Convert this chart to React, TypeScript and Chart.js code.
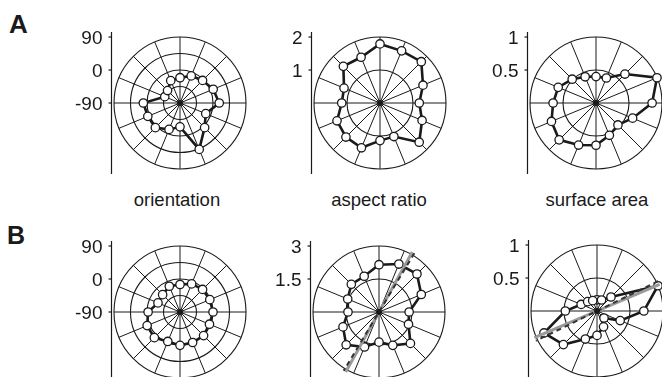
import React, { useEffect, useRef } from 'react';
import { Chart, registerables } from 'chart.js';

Chart.register(...registerables);

// 16 directions, degrees clockwise from the top
const angles = ['0', '22.5', '45', '67.5', '90', '112.5', '135', '157.5', '180', '202.5', '225', '247.5', '270', '292.5', '315', '337.5'];

// Row A
const orientationA = [-21, -10, -3, 8, 17, -14, 5, 47, -25, -12, 5, 5, 10, -45, -42, -24];
const aspectA = [1.79, 1.71, 1.77, 1.41, 1.19, 1.38, 1.68, 1.1, 1.14, 1.47, 1.46, 1.41, 1.16, 1.18, 1.57, 1.5];
const surfaceA = [0.4, 0.41, 0.62, 1.0, 0.85, 0.6, 0.47, 0.53, 0.64, 0.69, 0.79, 0.73, 0.65, 0.62, 0.51, 0.43];

// Row B
const orientationB = [-15, -7, -3, -2, 0, -3, 1, 0, 1, -3, 9, 7, -3, -25, -23, -14];
const aspectB = [2.15, 2.36, 2.44, 2.08, 1.37, 1.45, 2.02, 1.64, 1.37, 1.72, 2.11, 1.77, 1.41, 1.54, 1.78, 1.76];
const surfaceB = [0.17, 0.18, 0.3, 1.0, 0.71, 0.38, 0.15, 0.26, 0.37, 0.46, 0.72, 0.87, 0.48, 0.26, 0.2, 0.17];

// Radial axis tick labels
const orientationTicks = [90, 0, -90];
const aspectTicksA = [2, 1];
const aspectTicksB = [3, 1.5];
const surfaceTicks = [1, 0.5];

// Fitted axes (direction in degrees clockwise from top, half-length in data units)
const aspectFitAngles = [29, 31];
const aspectFitExtent = 3.12;
const surfaceFitAngles = [67, 64];
const surfaceFitExtent = 1.03;

const titles = ['orientation', 'aspect ratio', 'surface area'];

const INK = '#1a1a1a';
const FONT = '"Liberation Sans", Arial, Helvetica, sans-serif';

type Fit = { angle: number; extent: number; color: string; width: number; dash: number[] };
type PanelCfg = {
  data: number[];
  min: number;
  max: number;
  step: number;
  ticks: number[];
  cx: number;
  cy: number;
  fits?: Fit[];
};

const W = 220;
const H = 160;
const LX = 150;
const LY = 80;
const R = 66;

const panels: PanelCfg[] = [
  { data: orientationA, min: -90, max: 90, step: 45, ticks: orientationTicks, cx: 180, cy: 103 },
  { data: aspectA, min: 0, max: 2, step: 1, ticks: aspectTicksA, cx: 380, cy: 103 },
  { data: surfaceA, min: 0, max: 1, step: 0.5, ticks: surfaceTicks, cx: 596, cy: 103 },
  { data: orientationB, min: -90, max: 90, step: 45, ticks: orientationTicks, cx: 180, cy: 312 },
  {
    data: aspectB, min: 0, max: 3, step: 1.5, ticks: aspectTicksB, cx: 379, cy: 312,
    fits: [
      { angle: aspectFitAngles[0], extent: aspectFitExtent, color: '#9a9a9a', width: 3, dash: [] },
      { angle: aspectFitAngles[1], extent: aspectFitExtent, color: '#333', width: 2, dash: [5, 4] },
    ],
  },
  {
    data: surfaceB, min: 0, max: 1, step: 0.5, ticks: surfaceTicks, cx: 597, cy: 311,
    fits: [
      { angle: surfaceFitAngles[0], extent: surfaceFitExtent, color: '#9a9a9a', width: 3, dash: [] },
      { angle: surfaceFitAngles[1], extent: surfaceFitExtent, color: '#333', width: 2, dash: [5, 4] },
    ],
  },
];

function makePlugin(cfg: PanelCfg) {
  return {
    id: 'polarExtras',
    afterDatasetsDraw(chart: any) {
      const s = chart.scales.r;
      const ctx = chart.ctx;
      ctx.save();
      (cfg.fits || []).forEach((f) => {
        const d = s.getDistanceFromCenterForValue(f.extent);
        const p1 = s.getPointPosition(f.angle / 22.5, d);
        const p2 = s.getPointPosition((f.angle + 180) / 22.5, d);
        ctx.beginPath();
        ctx.strokeStyle = f.color;
        ctx.lineWidth = f.width;
        ctx.setLineDash(f.dash);
        ctx.moveTo(p1.x, p1.y);
        ctx.lineTo(p2.x, p2.y);
        ctx.stroke();
      });
      ctx.setLineDash([]);
      ctx.beginPath();
      ctx.fillStyle = INK;
      ctx.arc(s.xCenter, s.yCenter, 3, 0, Math.PI * 2);
      ctx.fill();
      ctx.restore();
    },
    afterDraw(chart: any) {
      const s = chart.scales.r;
      const ctx = chart.ctx;
      const x = Math.round(s.xCenter - s.drawingArea - 3.5) + 0.5;
      ctx.save();
      ctx.strokeStyle = INK;
      ctx.lineWidth = 1.2;
      ctx.beginPath();
      ctx.moveTo(x, s.yCenter - s.drawingArea - 5);
      ctx.lineTo(x, s.yCenter + s.drawingArea + 5);
      ctx.stroke();
      ctx.font = '19px ' + FONT;
      ctx.fillStyle = INK;
      ctx.textAlign = 'right';
      ctx.textBaseline = 'middle';
      cfg.ticks.forEach((v) => {
        const y = s.yCenter - s.getDistanceFromCenterForValue(v);
        ctx.beginPath();
        ctx.moveTo(x - 3, y);
        ctx.lineTo(x, y);
        ctx.stroke();
        ctx.fillText(String(v), x - 9, y + 2);
      });
      ctx.restore();
    },
  };
}

function Panel({ cfg }: { cfg: PanelCfg }) {
  const ref = useRef<HTMLCanvasElement | null>(null);
  useEffect(() => {
    if (!ref.current) return;
    const chart = new Chart(ref.current, {
      type: 'radar',
      data: {
        labels: angles,
        datasets: [
          {
            data: cfg.data,
            borderColor: INK,
            borderWidth: 2.6,
            fill: false,
            tension: 0,
            pointRadius: 4.2,
            pointBackgroundColor: '#ffffff',
            pointBorderColor: INK,
            pointBorderWidth: 1.3,
            clip: false,
          } as any,
        ],
      },
      options: {
        responsive: false,
        animation: false,
        events: [],
        layout: { padding: { left: LX - R, top: LY - R, right: W - LX - R, bottom: H - LY - R } },
        plugins: { legend: { display: false }, tooltip: { enabled: false }, title: { display: false } },
        scales: {
          r: {
            min: cfg.min,
            max: cfg.max,
            ticks: { display: false, stepSize: cfg.step },
            pointLabels: { display: false },
            grid: { circular: true, color: INK, lineWidth: 1.1 },
            angleLines: { display: true, color: INK, lineWidth: 1 },
          },
        },
      } as any,
      plugins: [makePlugin(cfg)],
    });
    return () => chart.destroy();
  }, [cfg]);
  return (
    <canvas
      ref={ref}
      width={W}
      height={H}
      style={{ position: 'absolute', left: cfg.cx - LX, top: cfg.cy - LY, width: W, height: H }}
    />
  );
}

export default function App() {
  const titleX = [177, 379, 597];
  return (
    <div
      style={{
        position: 'absolute',
        left: 0,
        top: 0,
        width: 662,
        height: 377,
        overflow: 'hidden',
        background: '#fff',
        fontFamily: FONT,
        color: INK,
      }}
    >
      {panels.map((p, i) => (
        <Panel key={i} cfg={p} />
      ))}
      {titles.map((t, i) => (
        <div
          key={t}
          style={{
            position: 'absolute',
            left: titleX[i] - 100,
            width: 200,
            top: 190,
            textAlign: 'center',
            fontSize: 18.5,
            lineHeight: '20px',
          }}
        >
          {t}
        </div>
      ))}
      <div style={{ position: 'absolute', left: 9, top: 9, fontSize: 26, fontWeight: 'bold', lineHeight: '30px' }}>A</div>
      <div style={{ position: 'absolute', left: 7, top: 220, fontSize: 25, fontWeight: 'bold', lineHeight: '30px' }}>B</div>
    </div>
  );
}
